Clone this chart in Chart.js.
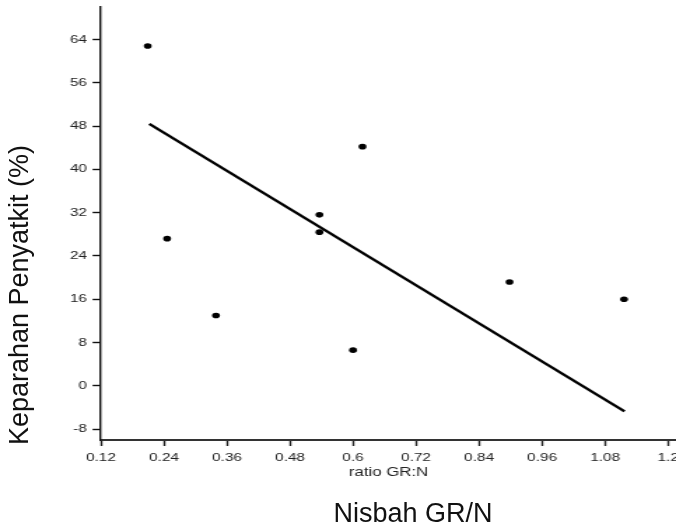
<!DOCTYPE html>
<html>
<head>
<meta charset="utf-8">
<script src="https://cdn.jsdelivr.net/npm/chart.js@4.4.1/dist/chart.umd.min.js"></script>
<style>
  html, body { margin: 0; padding: 0; background: #fff; }
  body { width: 676px; height: 527px; position: relative; overflow: hidden; font-family: "Liberation Sans", Arial, sans-serif; }
  #wrap { position: absolute; left: 0; top: 0; width: 483px; height: 527px; transform: scaleX(1.39959); transform-origin: 0 0; }
  #c { display: block; width: 483px; height: 527px; }
  .big { position: absolute; color: #111; font-size: 27px; white-space: nowrap; text-align: center; }
  #xtitle { left: 313px; top: 500px; width: 200px; line-height: 27px; }
  #ytitle { left: -181px; top: 280px; width: 400px; height: 30px; line-height: 30px; transform: rotate(-90deg); transform-origin: 50% 50%; }
</style>
</head>
<body>
<div id="wrap"><canvas id="c" width="483" height="527"></canvas></div>
<div class="big" id="xtitle">Nisbah GR/N</div>
<div class="big" id="ytitle">Keparahan Penyatkit (%)</div>
<script>
// Observed points: GR:N ratio vs disease severity (%)
const ratioX    = [0.209, 0.246, 0.339, 0.536, 0.536, 0.618, 0.600, 0.898, 1.116];
const severityY = [62.8, 27.2, 13.0, 31.6, 28.4, 44.2, 6.6, 19.2, 16.0];
// Fitted regression line end points
const trendX = [0.212, 1.117];
const trendY = [48.4, -4.7];
// Tick values and labels
const xTicks = [0.12, 0.24, 0.36, 0.48, 0.6, 0.72, 0.84, 0.96, 1.08, 1.2];
const xTickLabels = ["0.12", "0.24", "0.36", "0.48", "0.6", "0.72", "0.84", "0.96", "1.08", "1.2"];
const yTicks = [-8, 0, 8, 16, 24, 32, 40, 48, 56, 64];
const yTickLabels = ["-8", "0", "8", "16", "24", "32", "40", "48", "56", "64"];
const xAxisTitle = "ratio GR:N";

Chart.defaults.font.family = '"Liberation Sans", Arial, sans-serif';

const pts = ratioX.map((x, i) => ({ x: x, y: severityY[i] }));
const trend = trendX.map((x, i) => ({ x: x, y: trendY[i] }));

new Chart(document.getElementById('c'), {
  type: 'scatter',
  data: {
    datasets: [
      { data: pts, backgroundColor: '#000', borderColor: '#000', pointRadius: 2.8, pointBorderWidth: 0, showLine: false, clip: false },
      { data: trend, borderColor: '#000', borderWidth: 2.4, pointRadius: 0, showLine: true, fill: false, clip: false }
    ]
  },
  options: {
    responsive: false,
    maintainAspectRatio: false,
    devicePixelRatio: 1,
    animation: false,
    events: [],
    layout: { autoPadding: false, padding: { top: 7, right: 0, bottom: 47, left: 0 } },
    plugins: { legend: { display: false }, tooltip: { enabled: false } },
    scales: {
      x: {
        type: 'linear',
        min: 0.12,
        max: 1.215,
        afterBuildTicks: (s) => { s.ticks = xTicks.map(v => ({ value: v })); },
        afterFit: (s) => { s.height = 40; s.paddingLeft = 0; s.paddingRight = 0; },
        ticks: {
          color: '#222', font: { size: 11 }, padding: 5, maxRotation: 0, autoSkip: false,
          callback: (v) => { const i = xTicks.indexOf(v); return i >= 0 ? xTickLabels[i] : ''; }
        },
        grid: { display: true, drawOnChartArea: false, drawTicks: true, tickLength: 6, tickColor: '#222', tickWidth: 1.4 },
        border: { display: true, color: '#333', width: 2 },
        title: { display: true, text: xAxisTitle, color: '#222', font: { size: 12 }, padding: { top: 0, bottom: 0 } }
      },
      y: {
        type: 'linear',
        min: -10,
        max: 70,
        afterBuildTicks: (s) => { s.ticks = yTicks.map(v => ({ value: v })); },
        afterFit: (s) => { s.width = 72.14; s.paddingTop = 0; s.paddingBottom = 0; },
        ticks: {
          color: '#222', font: { size: 11 }, padding: 4, autoSkip: false,
          callback: (v) => { const i = yTicks.indexOf(v); return i >= 0 ? yTickLabels[i] : ''; }
        },
        grid: { display: true, drawOnChartArea: false, drawTicks: true, tickLength: 6, tickColor: '#111', tickWidth: 1.4 },
        border: { display: true, color: '#111', width: 1.4 }
      }
    }
  }
});
</script>
</body>
</html>
